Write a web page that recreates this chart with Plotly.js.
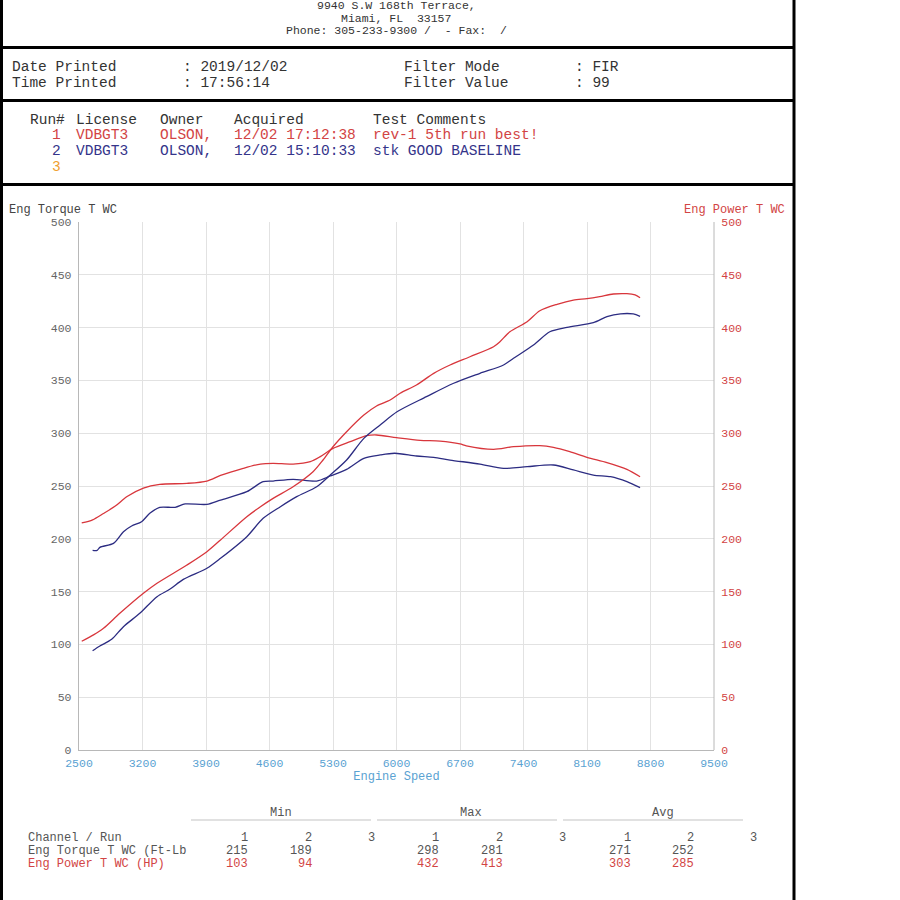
<!DOCTYPE html>
<html>
<head>
<meta charset="utf-8">
<script src="https://cdn.plot.ly/plotly-3.0.1.min.js"></script>
<style>
  html, body { margin: 0; padding: 0; background: #fff; }
  #chart { width: 900px; height: 900px; }
</style>
</head>
<body>
<div id="chart"></div>
<script>
// ---- Run 1 (rev-1 5th run best!) ----
const run1TorqueRpm = [2530, 2650, 2770, 2900, 3030, 3210, 3390, 3690, 3910, 4060, 4310, 4500, 4640, 4860, 5050, 5160, 5300, 5490, 5670, 5780, 6000, 6260, 6480, 6700, 6770, 7070, 7290, 7580, 7730, 7910, 8100, 8320, 8540, 8685];
const run1Torque = [215, 218, 224, 231, 240, 248, 251.5, 252.5, 254.7, 260, 266.7, 270.8, 271.5, 270.8, 273, 277.8, 285.6, 292, 297.6, 298.3, 295.8, 293.2, 292.5, 289.8, 288, 284.7, 287.2, 288.2, 286.6, 282.5, 277.1, 272.1, 265.8, 258.8];

const run1PowerRpm = [2530, 2660, 2770, 2950, 3210, 3360, 3690, 3910, 4060, 4350, 4500, 4640, 4860, 5080, 5190, 5300, 5450, 5640, 5780, 5930, 6040, 6220, 6410, 6590, 6810, 7070, 7140, 7250, 7440, 7580, 7770, 7950, 8100, 8240, 8390, 8540, 8630, 8685];
const run1Power = [103, 109, 115.2, 129.4, 148.4, 157.9, 175.2, 187.8, 198.9, 220.9, 230.4, 238.3, 249.3, 263.5, 274.6, 287.2, 301.4, 317.2, 325.8, 331.4, 337.8, 345.6, 356.7, 364.6, 372.4, 381.9, 386.6, 396.1, 405.6, 416, 422.1, 426.1, 427.4, 429.3, 431.8, 432.1, 430.9, 428.3];

// ---- Run 2 (stk GOOD BASELINE) ----
const run2TorqueRpm = [2650, 2700, 2730, 2880, 2990, 3080, 3190, 3280, 3390, 3560, 3670, 3910, 4060, 4350, 4530, 4640, 4860, 5120, 5270, 5450, 5640, 5820, 5980, 6220, 6410, 6590, 6920, 7180, 7440, 7730, 7950, 8170, 8360, 8540, 8685];
const run2Torque = [189, 189, 191.9, 195.7, 206.7, 212.1, 216.2, 224.1, 229.8, 229.8, 233, 232.6, 236.7, 244.6, 254.1, 254.7, 256.3, 254.7, 259.5, 265.8, 276.2, 279.4, 281, 278.4, 277.2, 274.6, 270.8, 266.7, 268.3, 269.9, 265.2, 260.4, 258.8, 254.1, 248.4];

const run2PowerRpm = [2650, 2730, 2860, 2990, 3170, 3360, 3500, 3650, 3910, 4060, 4350, 4530, 4720, 4900, 5120, 5270, 5450, 5640, 5820, 6010, 6330, 6630, 6920, 7180, 7290, 7510, 7690, 7880, 8170, 8320, 8470, 8610, 8685];
const run2Power = [94, 98.5, 104.8, 116.8, 129.4, 145.2, 152.2, 161.6, 172.1, 181.5, 202, 219.4, 230.4, 239.9, 249.3, 260.4, 274.6, 295.1, 307.8, 320.5, 334.6, 347.3, 356.7, 364.6, 370.9, 383.5, 396.1, 400.3, 404.6, 410.3, 413, 412.9, 410.7];

// ---- Axis ticks ----
const rpmTicks = [2500, 3200, 3900, 4600, 5300, 6000, 6700, 7400, 8100, 8800, 9500];
const valueTicks = [0, 50, 100, 150, 200, 250, 300, 350, 400, 450, 500];

// ---- Header texts ----
const addressLines = ["9940 S.W 168th Terrace,", "Miami, FL  33157", "Phone: 305-233-9300 /  - Fax:  /"];
const printInfoLabels = ["Date Printed", "Time Printed"];
const printInfoValues = [": 2019/12/02", ": 17:56:14"];
const filterLabels = ["Filter Mode", "Filter Value"];
const filterValues = [": FIR", ": 99"];

// ---- Run list ----
const runHeader = ["Run#", "License", "Owner", "Acquired", "Test Comments"];
const runNumbers = ["1", "2", "3"];
const runLicense = ["VDBGT3", "VDBGT3", ""];
const runOwner = ["OLSON,", "OLSON,", ""];
const runAcquired = ["12/02 17:12:38", "12/02 15:10:33", ""];
const runComments = ["rev-1 5th run best!", "stk GOOD BASELINE", ""];

// ---- Summary table ----
const statGroups = ["Min", "Max", "Avg"];
const channelNames = ["Eng Torque T WC (Ft-Lb", "Eng Power T WC (HP)"];
const torqueStats = ["215", "189", "", "298", "281", "", "271", "252", ""];
const powerStats = ["103", "94", "", "432", "413", "", "303", "285", ""];

// ---- Styling ----
const RED = "#d8363c";
const NAVY = "#2c2c82";
const RED_TXT = "#d24444";
const NAVY_TXT = "#34348a";
const ORANGE = "#f0a030";
const GRAY_TXT = "#444";
const MONO = "Liberation Mono, DejaVu Sans Mono, monospace";

// plot area in page pixels
const L = 79, R = 714, T = 222, B = 750;
const px = x => (x - L) / (R - L);
const py = y => (B - y) / (B - T);

function note(text, x, y, color, size, anchor) {
  return {
    text: text, xref: "paper", yref: "paper", x: px(x), y: py(y),
    xanchor: anchor || "left", yanchor: "middle", showarrow: false,
    font: { family: MONO, size: size, color: color }
  };
}
function hline(x0, x1, y, color, w) {
  return { type: "line", xref: "paper", yref: "paper", x0: px(x0), x1: px(x1), y0: py(y), y1: py(y), line: { color: color, width: w } };
}
function vline(x, y0, y1, color, w) {
  return { type: "line", xref: "paper", yref: "paper", x0: px(x), x1: px(x), y0: py(y0), y1: py(y1), line: { color: color, width: w } };
}

const traces = [
  { x: run1TorqueRpm, y: run1Torque, yaxis: "y", mode: "lines", line: { color: RED, width: 1.3, shape: "spline", smoothing: 0.8 }, name: "Run 1 Torque" },
  { x: run2TorqueRpm, y: run2Torque, yaxis: "y", mode: "lines", line: { color: NAVY, width: 1.3, shape: "spline", smoothing: 0.8 }, name: "Run 2 Torque" },
  { x: run1PowerRpm, y: run1Power, yaxis: "y2", mode: "lines", line: { color: RED, width: 1.3, shape: "spline", smoothing: 0.8 }, name: "Run 1 Power" },
  { x: run2PowerRpm, y: run2Power, yaxis: "y2", mode: "lines", line: { color: NAVY, width: 1.3, shape: "spline", smoothing: 0.8 }, name: "Run 2 Power" }
];

const annotations = [];
// address block
addressLines.forEach((t, i) => annotations.push(note(t, 396, 6 + i * 12.3, "#333", 11.5, "center")));
// print info
printInfoLabels.forEach((t, i) => annotations.push(note(t, 10, 66.5 + i * 16, "#333", 14.5)));
printInfoValues.forEach((t, i) => annotations.push(note(t, 181, 66.5 + i * 16, "#333", 14.5)));
filterLabels.forEach((t, i) => annotations.push(note(t, 402, 66.5 + i * 16, "#333", 14.5)));
filterValues.forEach((t, i) => annotations.push(note(t, 573, 66.5 + i * 16, "#333", 14.5)));
// run list
const runCols = [28, 74, 158, 232, 371];
runHeader.forEach((t, i) => annotations.push(note(t, runCols[i], 119.5, "#333", 14.5)));
const runColors = [RED_TXT, NAVY_TXT, ORANGE];
runNumbers.forEach((n, i) => {
  const y = 135 + i * 16;
  annotations.push(note(n, 63, y, runColors[i], 14.5, "right"));
  [runLicense[i], runOwner[i], runAcquired[i], runComments[i]].forEach((t, j) => {
    if (t) annotations.push(note(t, runCols[j + 1], y, runColors[i], 14.5));
  });
});
// axis titles
annotations.push(note("Eng Torque T WC", 7, 209.5, GRAY_TXT, 12));
annotations.push(note("Eng Power T WC", 787, 209.5, RED_TXT, 12, "right"));
// summary table
const groupCenters = [281, 471, 663];
statGroups.forEach((g, i) => annotations.push(note(g, groupCenters[i], 813, "#555", 12, "center")));
const colRight = [250, 314, 377, 441, 505, 568, 633, 696, 759];
annotations.push(note("Channel / Run", 26, 838, "#555", 12));
colRight.forEach((x, i) => annotations.push(note(String(i % 3 + 1), x, 838, "#555", 12, "right")));
annotations.push(note(channelNames[0], 26, 851, "#555", 12));
annotations.push(note(channelNames[1], 26, 864, RED_TXT, 12));
torqueStats.forEach((v, i) => { if (v) annotations.push(note(v, colRight[i], 851, "#555", 12, "right")); });
powerStats.forEach((v, i) => { if (v) annotations.push(note(v, colRight[i], 864, RED_TXT, 12, "right")); });

const shapes = [
  vline(1.5, 0, 900, "#000", 3),
  vline(794, 0, 900, "#000", 3),
  hline(0, 794, 47.5, "#000", 3),
  hline(0, 794, 100.5, "#000", 3),
  hline(0, 794, 184.5, "#000", 3),
  hline(191, 371, 820, "#c4c4c4", 1.2),
  hline(377, 557, 820, "#c4c4c4", 1.2),
  hline(563, 743, 820, "#c4c4c4", 1.2),
  // right frame of plot area
  vline(714, 222, 750, "#b8b8b8", 1)
];

const layout = {
  width: 900, height: 900,
  margin: { l: L, r: 900 - R, t: T, b: 900 - B },
  paper_bgcolor: "#fff", plot_bgcolor: "#fff",
  showlegend: false,
  font: { family: MONO, size: 12, color: GRAY_TXT },
  xaxis: {
    range: [2500, 9500], tickvals: rpmTicks, ticktext: rpmTicks.map(String),
    showgrid: true, gridcolor: "#e2e2e2", gridwidth: 1,
    showline: true, linecolor: "#b8b8b8", linewidth: 1.2,
    zeroline: false, ticks: "outside", ticklen: 2, tickcolor: "rgba(0,0,0,0)",
    tickfont: { family: MONO, size: 11.5, color: "#5aa2d2" },
    title: { text: "Engine Speed", font: { family: MONO, size: 12, color: "#5aa2d2" }, standoff: 0 }
  },
  yaxis: {
    range: [0, 500], tickvals: valueTicks, ticktext: valueTicks.map(String),
    showgrid: true, gridcolor: "#e2e2e2", gridwidth: 1,
    showline: true, linecolor: "#b8b8b8", linewidth: 1.2,
    zeroline: false, ticks: "outside", ticklen: 4, tickcolor: "rgba(0,0,0,0)",
    tickfont: { family: MONO, size: 11.5, color: "#666" }
  },
  yaxis2: {
    range: [0, 500], tickvals: valueTicks, ticktext: valueTicks.map(String),
    overlaying: "y", side: "right", showgrid: false, zeroline: false,
    showline: false, ticks: "outside", ticklen: 4, tickcolor: "rgba(0,0,0,0)",
    tickfont: { family: MONO, size: 11.5, color: RED_TXT }
  },
  annotations: annotations,
  shapes: shapes
};

Plotly.newPlot("chart", traces, layout, { staticPlot: true, displayModeBar: false });
</script>
</body>
</html>
